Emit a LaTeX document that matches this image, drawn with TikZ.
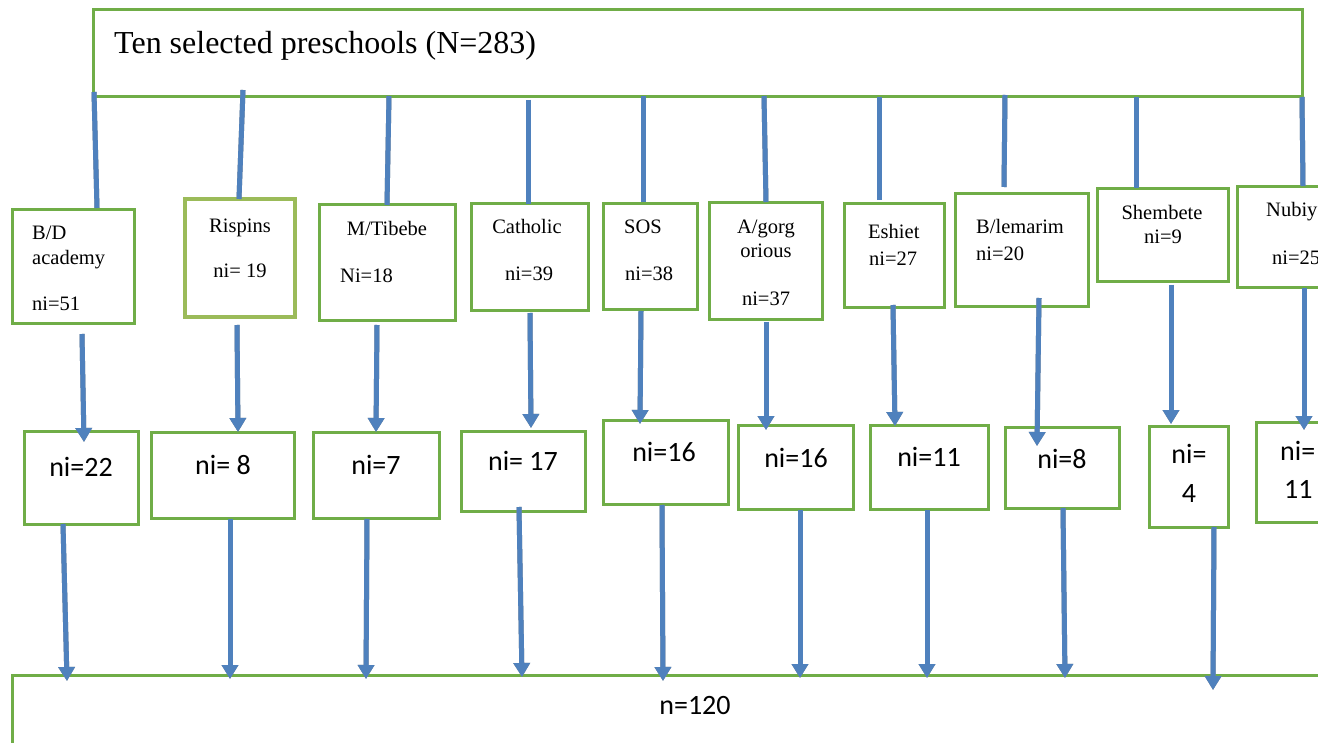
\documentclass[tikz,border=0pt]{standalone}
\usepackage{fontspec}
\setmainfont{Liberation Serif}
\newfontfamily\calfont{Carlito}
\usetikzlibrary{arrows.meta,fit}
\definecolor{boxgreen}{RGB}{112,173,71}
\definecolor{lightgreen}{RGB}{155,187,89}
\definecolor{arrowblue}{RGB}{79,129,189}
\definecolor{shadowgrey}{RGB}{140,140,140}
\tikzset{
  box/.style={draw=boxgreen, line width=3pt, fill=white, inner sep=0pt},
  thickbox/.style={draw=lightgreen, line width=4.5pt, fill=white, inner sep=0pt},
  small/.style={inner sep=0pt, font=\fontsize{20.5}{24}\selectfont},
  big/.style={inner sep=0pt, font=\calfont\fontsize{28}{32}\selectfont},
  title/.style={inner sep=0pt, font=\fontsize{32}{36}\selectfont},
  bar/.style={draw=arrowblue, line width=5pt},
  barshadow/.style={draw=shadowgrey, line width=5pt, yshift=-2pt},
  arr/.style={draw=arrowblue, line width=5pt, -{Triangle[width=16pt,length=14pt]}},
  arrshadow/.style={draw=shadowgrey, line width=5pt, yshift=-3pt, -{Triangle[width=16pt,length=14pt]}}
}
\begin{document}
\begin{tikzpicture}[x=1pt,y=-1pt]
\useasboundingbox (0,0) rectangle (1318,743);
\clip (0,0) rectangle (1318,743);
\fill[white] (0,0) rectangle (1318,743);

% top box
\node[box, fit={(93,10) (1302,97)}] (top) {};
\node[title, anchor=base west] (toptext) at (114,54) {Ten selected preschools (N=283)};

% bottom box
\node[box, fit={(12,675) (1340,770)}] (total) {};
\node[big, anchor=base] (totaltext) at (695,714) {n=120};

% first row of boxes
\node[box, fit={(12,210) (134,324)}] (r1) {};
\node[thickbox, fit={(185,199) (295,317)}] (r2) {};
\node[box, fit={(319,205) (455,321)}] (r3) {};
\node[box, fit={(471,204) (588,311)}] (r4) {};
\node[box, fit={(603,204) (697,310)}] (r5) {};
\node[box, fit={(709,203) (822,320)}] (r6) {};
\node[box, fit={(844,204) (944,308)}] (r7) {};
\node[box, fit={(955,194) (1088,307)}] (r8) {};
\node[box, fit={(1097,189) (1228,282)}] (r9) {};
\node[box, fit={(1237,187) (1340,288)}] (r10) {};

\node[small, anchor=base west] (r1a) at (32,240) {B/D};
\node[small, anchor=base west] (r1b) at (32,265) {academy};
\node[small, anchor=base west] (r1c) at (32,311) {ni=51};
\node[small, anchor=base] (r2a) at (240,233) {Rispins};
\node[small, anchor=base] (r2b) at (240,278) {ni= 19};
\node[small, anchor=base] (r3a) at (387,236) {M/Tibebe};
\node[small, anchor=base west] (r3b) at (340,283) {Ni=18};
\node[small, anchor=base] (r4a) at (527,234) {Catholic};
\node[small, anchor=base] (r4b) at (529,281) {ni=39};
\node[small, anchor=base west] (r5a) at (624,234) {SOS};
\node[small, anchor=base west] (r5b) at (625,281) {ni=38};
\node[small, anchor=base] (r6a) at (766,234) {A/gorg};
\node[small, anchor=base] (r6b) at (766,258) {orious};
\node[small, anchor=base] (r6c) at (766,306) {ni=37};
\node[small, anchor=base west] (r7a) at (868,239) {Eshiet};
\node[small, anchor=base west] (r7b) at (869,266) {ni=27};
\node[small, anchor=base west] (r8a) at (976,234) {B/lemarim};
\node[small, anchor=base west] (r8b) at (976,261) {ni=20};
\node[small, anchor=base] (r9a) at (1162,220) {Shembete};
\node[small, anchor=base] (r9b) at (1163,244) {ni=9};
\node[small, anchor=base west] (r10a) at (1266,217) {Nubiya};
\node[small, anchor=base west] (r10b) at (1272,265) {ni=25};

% second row of boxes
\node[box, fit={(24,431) (138,524)}] (s1) {};
\node[box, fit={(151,432) (294,518)}] (s2) {};
\node[box, fit={(313,432) (439,518)}] (s3) {};
\node[box, fit={(461,431) (585,511)}] (s4) {};
\node[box, fit={(603,420) (728,504)}] (s5) {};
\node[box, fit={(738,425) (853,509)}] (s6) {};
\node[box, fit={(870,425) (988,509)}] (s7) {};
\node[box, fit={(1005,427) (1119,508)}] (s8) {};
\node[box, fit={(1149,426) (1228,527)}] (s9) {};
\node[box, fit={(1256,422) (1340,522)}] (s10) {};

\node[big, anchor=base] (s1t) at (81,476) {ni=22};
\node[big, anchor=base] (s2t) at (223,474) {ni= 8};
\node[big, anchor=base] (s3t) at (376,474) {ni=7};
\node[big, anchor=base] (s4t) at (523,470) {ni= 17};
\node[big, anchor=base] (s5t) at (664,461) {ni=16};
\node[big, anchor=base] (s6t) at (796,467) {ni=16};
\node[big, anchor=base] (s7t) at (929,466) {ni=11};
\node[big, anchor=base] (s8t) at (1062,468) {ni=8};
\node[big, anchor=base] (s9a) at (1189,463) {ni=};
\node[big, anchor=base] (s9b) at (1189,502) {4};
\node[big, anchor=base west] (s10a) at (1280,460) {ni=};
\node[big, anchor=base west] (s10b) at (1284,498) {11};

% connectors from the top box to the first row
\foreach \i/\xa/\ya/\xb/\yb in {1/94/92/97/208, 2/243/90/239/199, 3/389/96/387/205,
  4/528/100/528/204, 5/643/96/643/202, 6/764/96/766/202, 7/879/97/879/200,
  8/1005/95/1004/187, 9/1136/97/1136/188, 10/1302/97/1303/186}{
  \coordinate (ta\i) at (\xa,\ya);
  \coordinate (tb\i) at (\xb,\yb);
  \draw[barshadow] (ta\i) -- (tb\i);
  \draw[bar] (ta\i) -- (tb\i);
}

% arrows from the first row to the second row
\foreach \i/\xa/\ya/\xb/\yb in {1/82/334/84/442, 2/237/325/238/432, 3/377/325/376/432,
  4/530/313/531/428, 5/641/311/640/424, 6/766/322/766/430, 7/893/305/895/426,
  8/1039/298/1037/446, 9/1171/285/1171/424, 10/1304/288/1304/430}{
  \coordinate (ma\i) at (\xa,\ya);
  \coordinate (mb\i) at (\xb,\yb);
  \draw[arrshadow] (ma\i) -- (mb\i);
  \draw[arr] (ma\i) -- (mb\i);
}

% arrows from the second row to the total
\foreach \i/\xa/\ya/\xb/\yb in {1/63/524/67/681, 2/230/519/230/679, 3/367/519/366/679,
  4/519/507/522/677, 5/662/505/663/681, 6/800/510/800/678, 7/927/510/927/678,
  8/1063/508/1065/678, 9/1214/527/1213/690}{
  \coordinate (ba\i) at (\xa,\ya);
  \coordinate (bb\i) at (\xb,\yb);
  \draw[arrshadow] (ba\i) -- (bb\i);
  \draw[arr] (ba\i) -- (bb\i);
}
\end{tikzpicture}
\end{document}
